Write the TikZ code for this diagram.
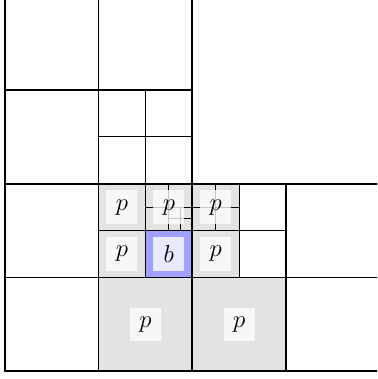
\documentclass[tikz,border=0pt]{standalone}
\begin{document}
\begin{tikzpicture}[x=1.6cm,y=1.6cm,
  grayfill/.style={fill=black!11},
  bluefill/.style={fill={rgb,255:red,160;green,160;blue,255}},
  lbl/.style={fill=white,fill opacity=0.78,text opacity=1,inner sep=0pt,minimum width=0.53cm,minimum height=0.57cm,font=\fontsize{12}{14}\selectfont},
  L0/.style={line width=1pt},
  L1/.style={line width=0.9pt},
  L2/.style={line width=0.8pt},
  L3/.style={line width=0.65pt},
  L4/.style={line width=0.55pt},
  L5/.style={line width=0.45pt}]
\useasboundingbox (-0.05,-0.082) rectangle (3.969,3.958);
\clip (-0.05,-0.082) rectangle (3.969,3.958);
% fills
\fill[grayfill] (1,0) rectangle (3,1);
\fill[grayfill] (1,1) rectangle (2.5,2);
\fill[bluefill] (1.5,1) rectangle (2,1.5);
% level 0
\draw[L0] (0,0) rectangle (4,4);
% level 1
\draw[L1] (2,0) -- (2,4) (0,2) -- (4,2);
% level 2
\draw[L2] (1,2) -- (1,4) (0,3) -- (2,3)
          (1,0) -- (1,2) (0,1) -- (2,1)
          (3,0) -- (3,2) (2,1) -- (4,1);
% level 3
\draw[L3] (1.5,2) -- (1.5,3) (1,2.5) -- (2,2.5)
          (1.5,1) -- (1.5,2) (1,1.5) -- (2,1.5)
          (2.5,1) -- (2.5,2) (2,1.5) -- (3,1.5);
% level 4
\draw[L4] (1.75,1.5) -- (1.75,2) (1.5,1.75) -- (2,1.75)
          (2.25,1.5) -- (2.25,2) (2,1.75) -- (2.5,1.75);
% level 5
\draw[L5] (1.875,1.5) -- (1.875,1.75) (1.75,1.625) -- (2,1.625);
% labels
\node[lbl] (p1) at (1.25,1.75) {$p$};
\node[lbl] (p2) at (1.75,1.75) {$p$};
\node[lbl] (p3) at (2.25,1.75) {$p$};
\node[lbl] (p4) at (1.25,1.25) {$p$};
\node[lbl] (p5) at (2.25,1.25) {$p$};
\node[lbl] (p6) at (1.5,0.5) {$p$};
\node[lbl] (p7) at (2.5,0.5) {$p$};
\node[lbl] (b) at (1.75,1.25) {$b$};
\end{tikzpicture}
\end{document}
